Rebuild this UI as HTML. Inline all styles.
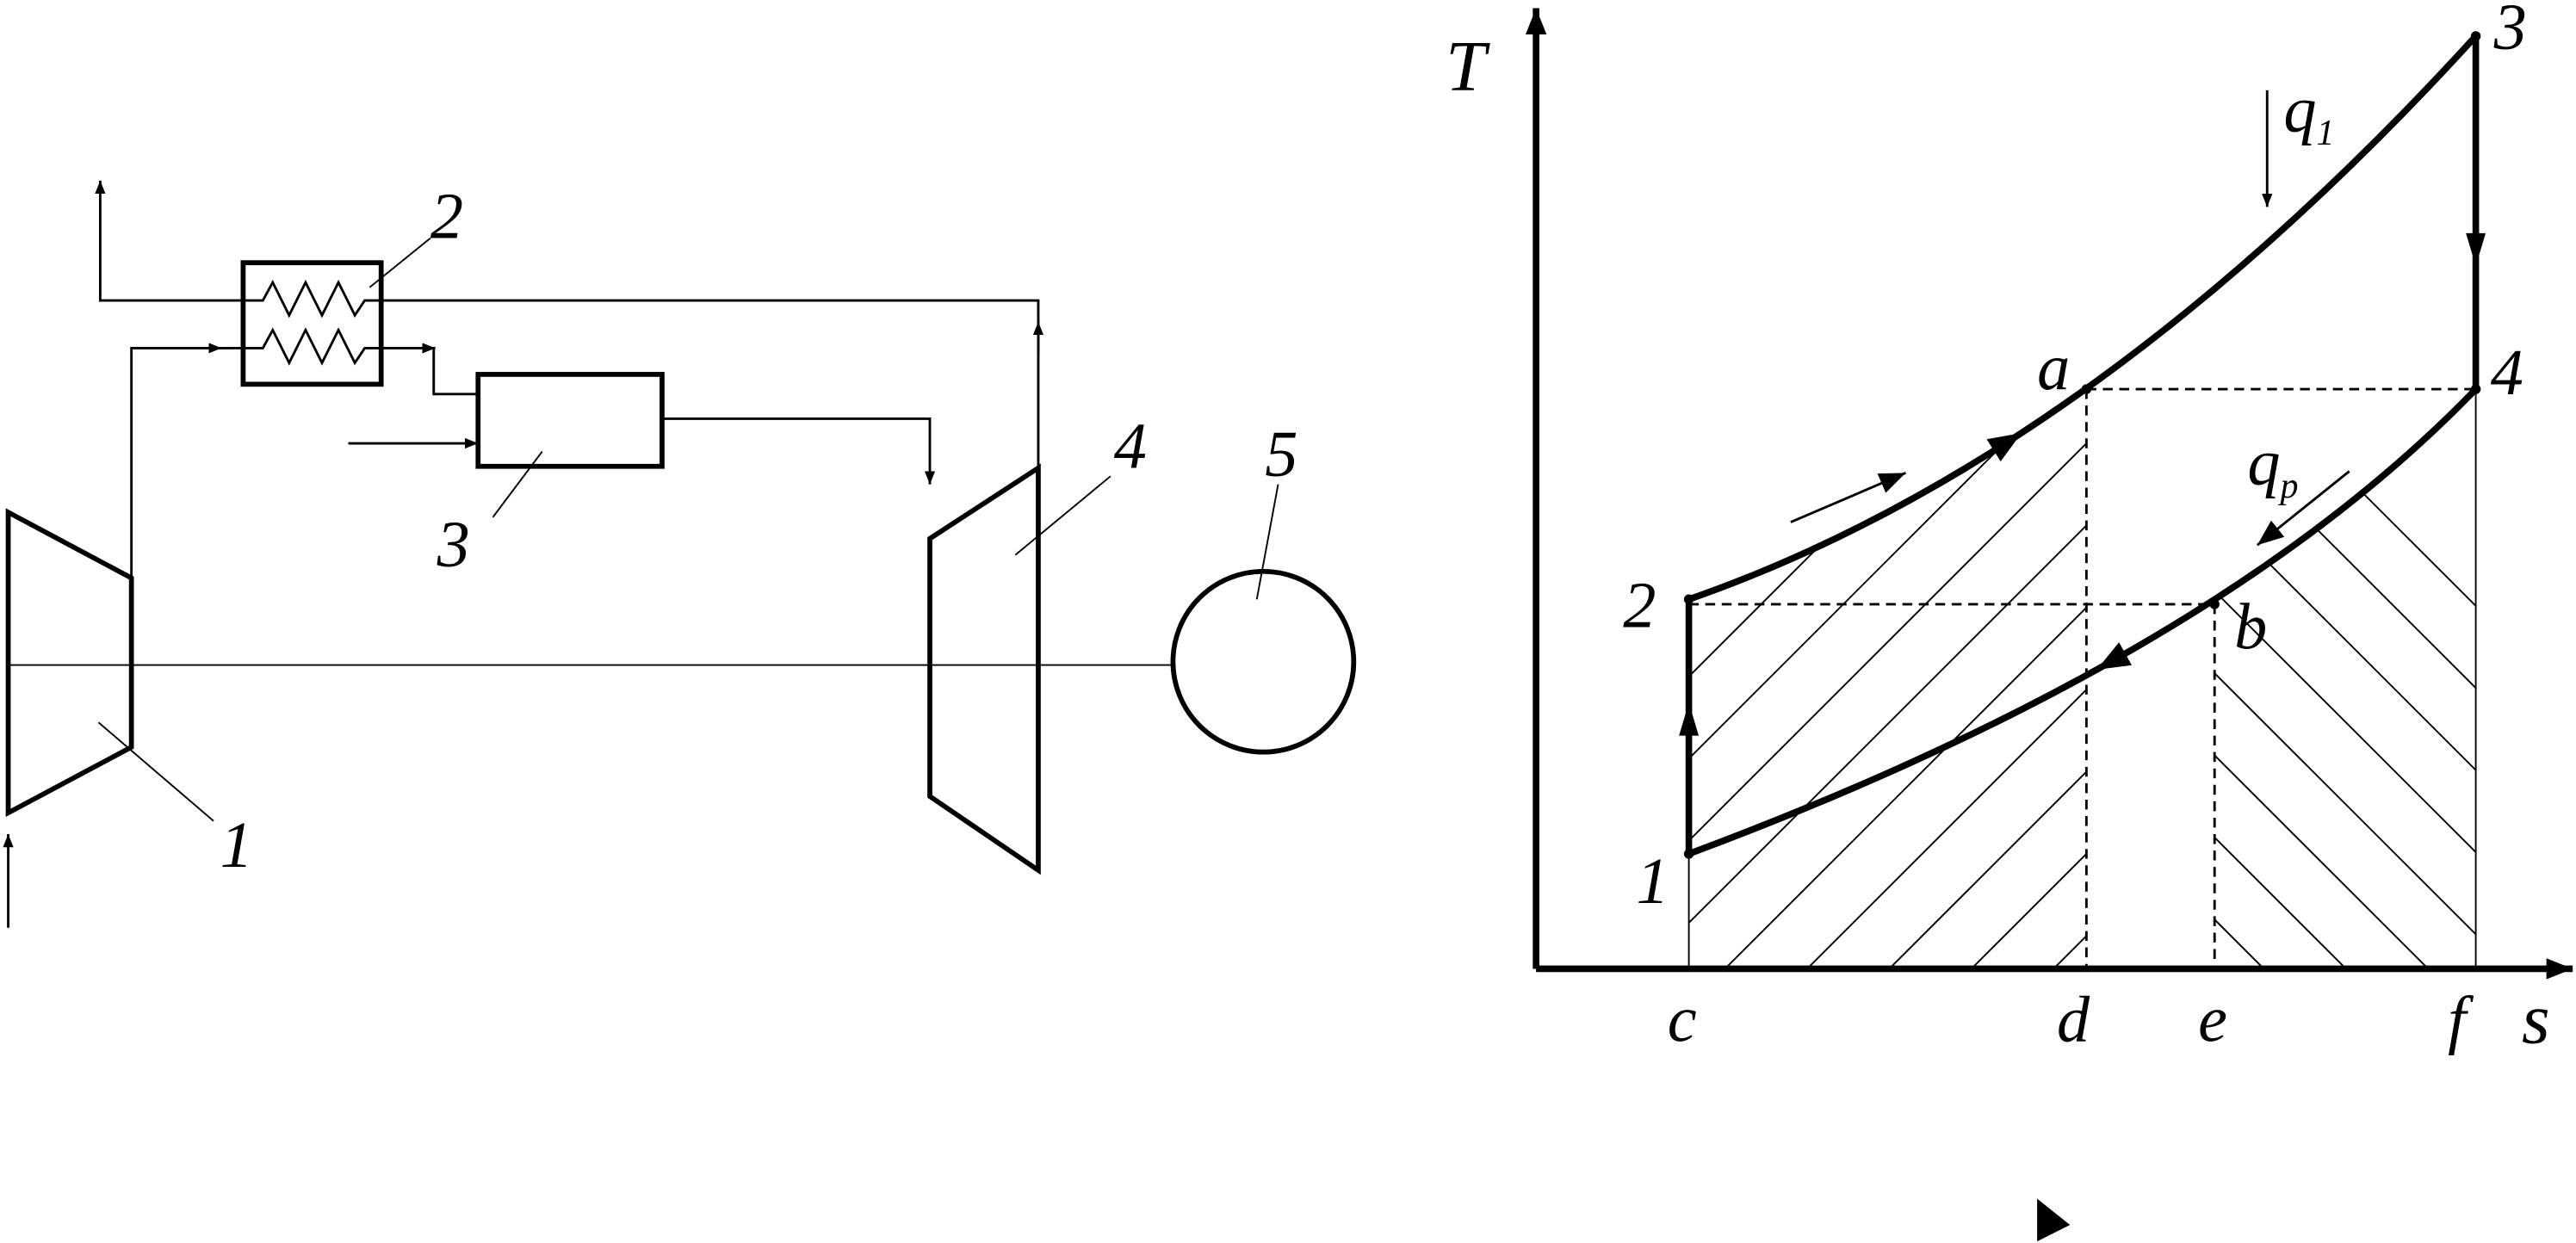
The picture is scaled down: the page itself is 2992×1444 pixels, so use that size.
<!DOCTYPE html>
<html><head><meta charset="utf-8"><style>
html,body{margin:0;padding:0;background:#fff;}
svg{display:block;}
text{font-family:"Liberation Serif",serif;font-style:italic;fill:#000;}
</style></head><body>
<svg width="2992" height="1444" viewBox="0 0 1568 757" preserveAspectRatio="none" xmlns="http://www.w3.org/2000/svg">
<defs>
<marker id="ah" viewBox="0 0 10 10" refX="10" refY="5" markerWidth="8" markerHeight="8" orient="auto" markerUnits="userSpaceOnUse"><path d="M0,1 L10,5 L0,9 Z" fill="#000"/></marker>
<marker id="ahb" viewBox="0 0 10 10" refX="10" refY="5" markerWidth="16" markerHeight="16" orient="auto" markerUnits="userSpaceOnUse"><path d="M0,1 L10,5 L0,9 Z" fill="#000"/></marker>
<marker id="ahc" viewBox="0 0 10 10" refX="5" refY="5" markerWidth="20" markerHeight="20" orient="auto" markerUnits="userSpaceOnUse"><path d="M0,1 L10,5 L0,9 Z" fill="#000"/></marker>
<clipPath id="cL"><path d="M1028,590 L1028,365 Q1272,280 1507,22 L1507,590 Z"/></clipPath>
<clipPath id="rL"><rect x="1028" y="0" width="242" height="590"/></clipPath>
<clipPath id="cR"><path d="M1028,520 Q1350,400 1507,237 L1507,590 L1028,590 Z"/></clipPath>
<clipPath id="rR"><rect x="1348" y="0" width="159" height="590"/></clipPath>
</defs>
<g fill="none" stroke="#000">
<polygon points="5,312 80,352 80,455 5,495" stroke-width="3"/>
<line x1="5" y1="405" x2="715" y2="405" stroke-width="1"/>
<line x1="5" y1="565" x2="5" y2="508" stroke-width="1.5" marker-end="url(#ah)"/>
<polyline points="80,352 80,212 135,212" stroke-width="1.5" marker-end="url(#ah)"/>
<line x1="135" y1="212" x2="148" y2="212" stroke-width="1.5"/>
<rect x="148" y="160" width="84" height="74" stroke-width="3"/>
<polyline points="148,183 160,183 166,172 176,192 186,172 196,192 206,172 216,192 222,183 232,183" stroke-width="1.5"/>
<polyline points="148,212 160,212 166,201 176,221 186,201 196,221 206,201 216,221 222,212 232,212" stroke-width="1.5"/>
<polyline points="148,183 61,183 61,110" stroke-width="1.5" marker-end="url(#ah)"/>
<polyline points="232,183 632,183 632,530" stroke-width="1.5"/>
<line x1="632" y1="215" x2="632" y2="196" stroke-width="1.5" marker-end="url(#ah)"/>
<line x1="232" y1="212" x2="265" y2="212" stroke-width="1.5" marker-end="url(#ah)"/>
<polyline points="264,212 264,240 291,240" stroke-width="1.5"/>
<rect x="291" y="228" width="112" height="56" stroke-width="3"/>
<line x1="212" y1="270" x2="291" y2="270" stroke-width="1.5" marker-end="url(#ah)"/>
<polyline points="403,255 566,255 566,295" stroke-width="1.5" marker-end="url(#ah)"/>
<polygon points="566,328 632,285 632,530 566,485" stroke-width="3"/>
<circle cx="769" cy="403" r="55" stroke-width="3"/>
<line x1="60" y1="440" x2="130" y2="500" stroke-width="1"/>
<line x1="225" y1="175" x2="262" y2="145" stroke-width="1"/>
<line x1="300" y1="315" x2="330" y2="275" stroke-width="1"/>
<line x1="618" y1="338" x2="676" y2="290" stroke-width="1"/>
<line x1="765" y1="365" x2="778" y2="295" stroke-width="1"/>

<g clip-path="url(#rL)"><g clip-path="url(#cL)" stroke-width="1">
<path d="M1000,590 L1400,190 M1050,590 L1450,190 M1100,590 L1500,190 M1150,590 L1550,190 M1200,590 L1600,190 M1250,590 L1650,190 M950,590 L1350,190 M900,590 L1300,190 M850,590 L1250,190"/>
</g></g>
<g clip-path="url(#rR)"><g clip-path="url(#cR)" stroke-width="1">
<path d="M1348,460 L1478,590 M1348,410 L1528,590 M1348,360 L1578,590 M1348,310 L1628,590 M1348,260 L1678,590 M1348,210 L1728,590 M1348,510 L1428,590 M1348,560 L1378,590"/>
</g></g>
<line x1="935" y1="590" x2="935" y2="5" stroke-width="4" marker-end="url(#ahb)"/>
<line x1="935" y1="590" x2="1566" y2="590" stroke-width="4" marker-end="url(#ahb)"/>
<path d="M1028,365 Q1272,280 1507,22" stroke-width="4"/>
<path d="M1028,520 Q1350,400 1507,237" stroke-width="4"/>
<line x1="1028" y1="520" x2="1028" y2="365" stroke-width="4"/>
<line x1="1507" y1="22" x2="1507" y2="237" stroke-width="4"/>
<line x1="1028" y1="520" x2="1028" y2="590" stroke-width="1"/>
<line x1="1507" y1="237" x2="1507" y2="590" stroke-width="1"/>
<g stroke-dasharray="6,4" stroke-width="1.5">
<line x1="1270" y1="237" x2="1507" y2="237"/>
<line x1="1270" y1="237" x2="1270" y2="590"/>
<line x1="1028" y1="368" x2="1348" y2="368"/>
<line x1="1348" y1="368" x2="1348" y2="590"/>
</g>
<line x1="1380" y1="55" x2="1380" y2="126" stroke-width="1.5" marker-end="url(#ah)"/>
<line x1="1430" y1="287" x2="1374" y2="332" stroke-width="1.5" marker-end="url(#ahb)"/>
<line x1="1090" y1="318" x2="1160" y2="288" stroke-width="1.5" marker-end="url(#ahb)"/>
<line x1="1213" y1="274.6" x2="1222" y2="269" stroke-width="1" marker-end="url(#ahc)"/>
<line x1="1294" y1="398" x2="1285" y2="403" stroke-width="1" marker-end="url(#ahc)"/>
</g>
<g fill="#000">
<polygon points="1028,428 1022,448 1034,448"/>
<polygon points="1507,162 1501,142 1513,142"/>
<circle cx="1028" cy="520" r="3"/><circle cx="1028" cy="365" r="3"/>
<circle cx="1270" cy="237" r="3"/><circle cx="1348" cy="368" r="3"/>
<circle cx="1507" cy="237" r="3"/><circle cx="1507" cy="22" r="3"/>
<polygon points="1240,730 1240,756 1260,746"/>
</g>
<g font-size="40">
<text x="134" y="528">1</text>
<text x="262" y="145">2</text>
<text x="266" y="345">3</text>
<text x="678" y="285">4</text>
<text x="770" y="290">5</text>
<text x="880" y="55" font-size="44">T</text>
<text x="1535" y="635" font-size="44">s</text>
<text x="1015" y="634">c</text>
<text x="1252" y="634">d</text>
<text x="1338" y="634">e</text>
<text x="1490" y="634">f</text>
<text x="996" y="550">1</text>
<text x="988" y="382">2</text>
<text x="1518" y="30">3</text>
<text x="1516" y="240">4</text>
<text x="1240" y="237">a</text>
<text x="1360" y="395">b</text>
<text x="1390" y="80">q<tspan font-size="22" dy="8">1</tspan></text>
<text x="1368" y="295">q<tspan font-size="22" dy="8">p</tspan></text>
</g>
</svg>
</body></html>
